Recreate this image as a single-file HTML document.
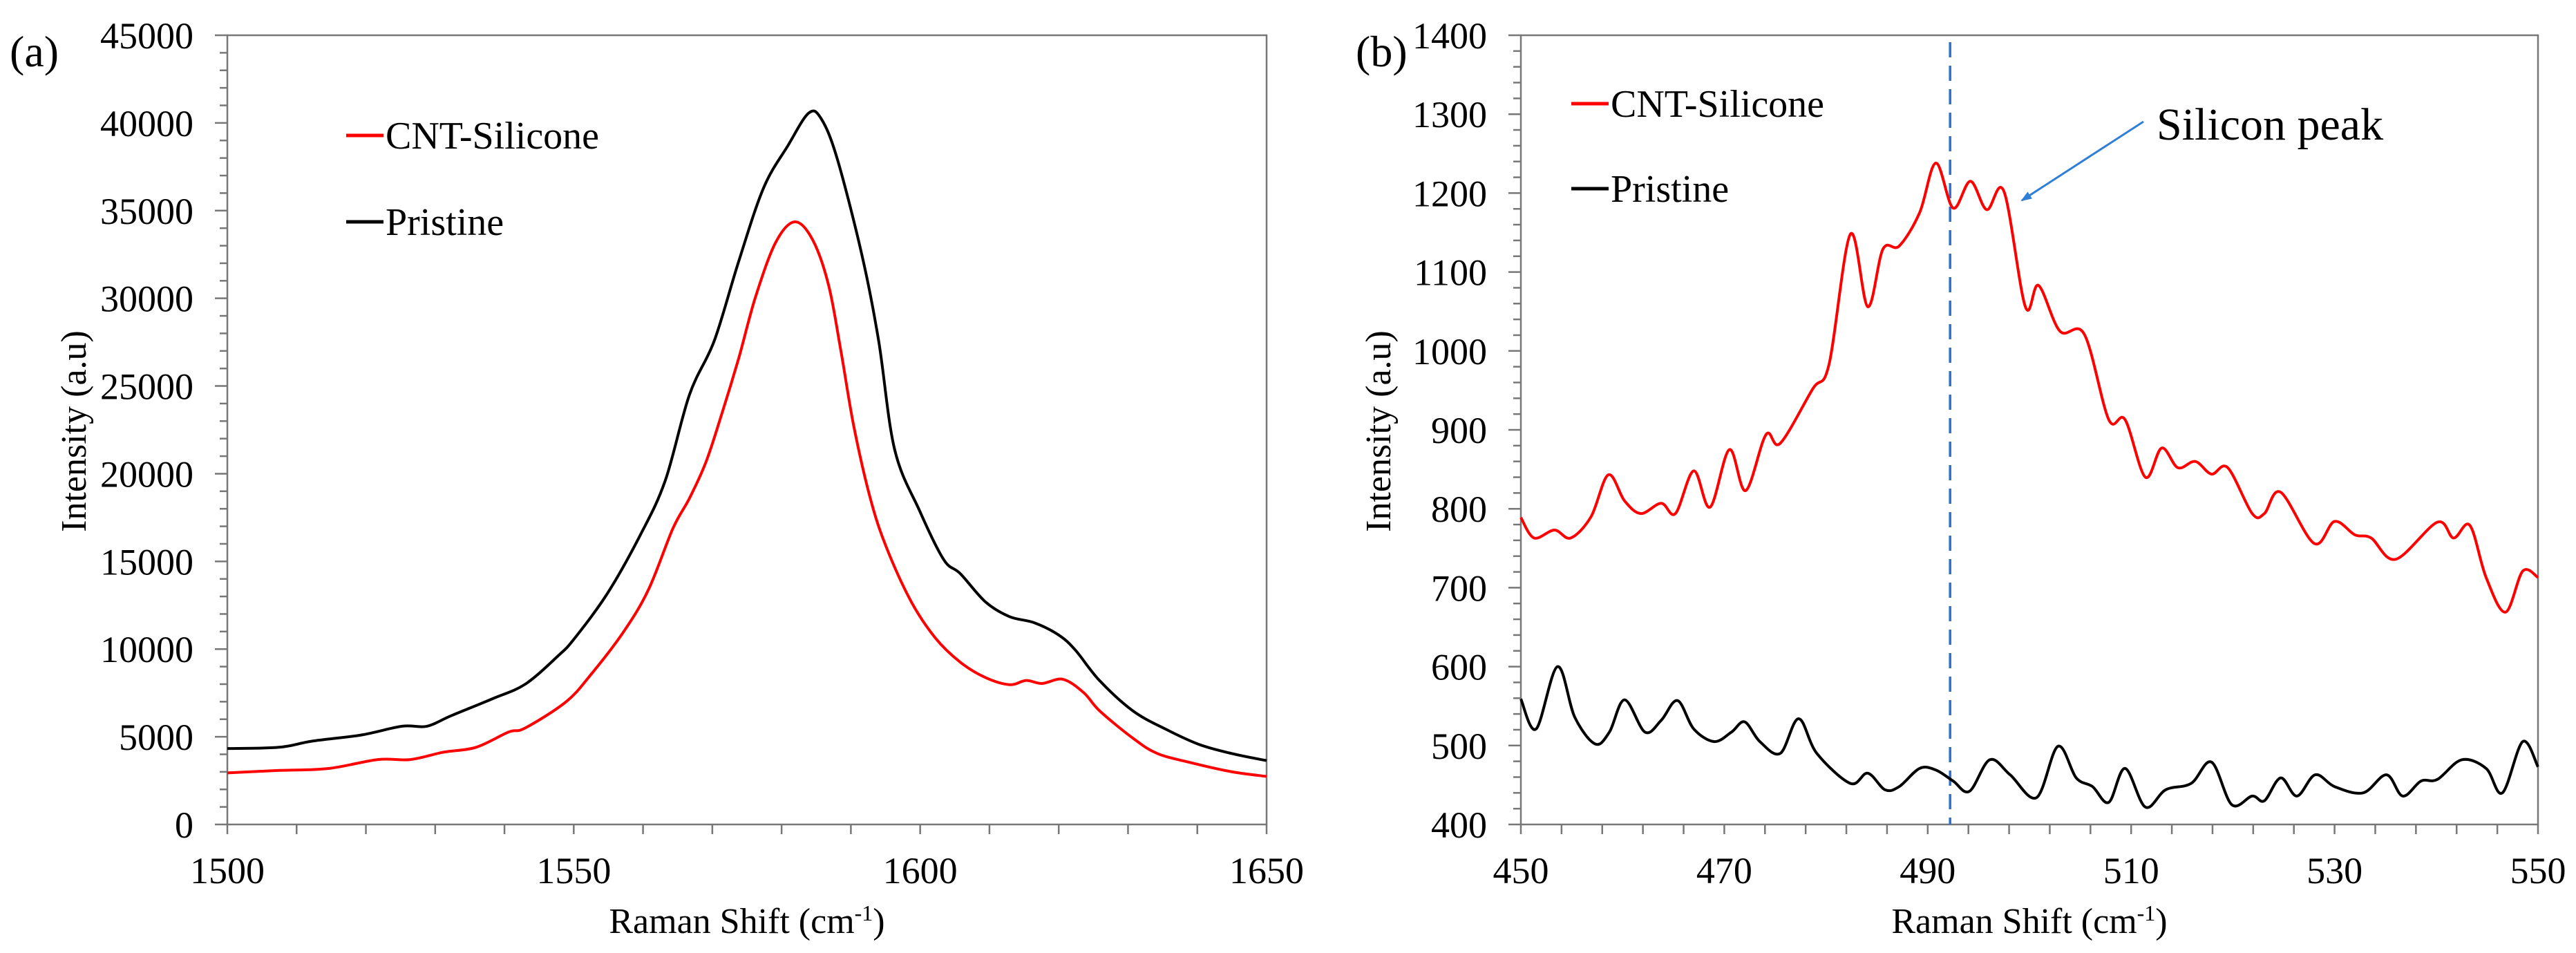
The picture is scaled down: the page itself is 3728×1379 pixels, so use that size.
<!DOCTYPE html>
<html><head><meta charset="utf-8"><style>
html,body{margin:0;padding:0;background:#fff}
svg{display:block;font-family:"Liberation Serif","DejaVu Serif","Times New Roman",serif}
text{font-family:"Liberation Serif","DejaVu Serif","Times New Roman",serif;fill:#000}
</style></head><body>
<svg id="s" width="3728" height="1379" viewBox="0 0 3728 1379" font-family="Liberation Serif, DejaVu Serif, serif">
<defs><marker id="ah" markerWidth="16" markerHeight="12" refX="14" refY="6" orient="auto" markerUnits="userSpaceOnUse"><path d="M0,0 L16,6 L0,12 z" fill="#2f7ed8"/></marker></defs>
</svg>
<script>
// Panel (a)
const aX_black=[1500,1507.5,1512.2,1519.3,1525.2,1528.8,1532.3,1538.3,1543,1547.7,1550.1,1554.9,1559.6,1563.2,1566.7,1570.3,1573.8,1577.4,1580.9,1583.9,1585.7,1588,1591.6,1594,1596.3,1599.9,1603.4,1605.8,1609.4,1612.9,1616.5,1620,1622.4,1625.9,1630.7,1635.4,1640.2,1644.9,1650];
const aY_black=[4330,4400,4750,5100,5600,5600,6200,7170,8000,9600,10600,13200,16500,19600,24500,27600,32100,36300,38700,40560,40250,38000,32460,27600,21400,17900,15100,14300,12700,11850,11500,10800,9940,8200,6480,5440,4570,4050,3640];
const aX_red=[1500,1507.5,1514.6,1521.7,1526.4,1531.2,1535.9,1540.6,1543,1548.9,1552.5,1557.2,1560.8,1564.3,1566.7,1569.1,1571.4,1573.8,1576.2,1579.1,1581.9,1584.5,1586.8,1588.6,1590.4,1592.8,1595.1,1598.7,1602.2,1605.8,1609.4,1612.9,1615.3,1617.6,1620.6,1623.6,1625.9,1630.7,1634.2,1639,1644.9,1650];
const aY_red=[2940,3080,3190,3700,3700,4120,4400,5270,5500,7000,8560,10990,13400,16870,18600,20680,23450,26570,30030,33150,34360,33320,30720,26900,22750,18600,15830,12710,10630,9250,8380,7970,8210,8040,8280,7520,6480,4920,4050,3530,3010,2740];
const aYTicks=[0,5000,10000,15000,20000,25000,30000,35000,40000,45000];
const aXTicks=[1500,1550,1600,1650];
// Panel (b)
const bX_red=[450,451.3,453.3,454.9,456.9,458.6,460.2,461.8,463.8,465.2,467,468.6,470.5,472.1,474.1,475.5,478.7,480.3,482.4,484.1,485.6,487.2,489.2,490.8,492.5,494.2,495.8,497.5,499.6,500.9,503,505.4,507.8,509.4,511.4,513,514.6,516.3,517.9,519.5,521.9,523.1,524.7,528,530,532,533.6,536,540.1,541.7,543.3,544.9,546.8,548.5,550];
const bY_red=[789,763,773,763,790,843,810,794,807,794,848,802,875,823,894,883,952,983,1148,1056,1129,1133,1175,1238,1181,1215,1179,1202,1056,1083,1025,1021,913,913,840,877,852,860,844,852,794,794,821,756,784,767,763,736,783,763,779,713,669,721,713];
const bX_black=[450,451.5,453.6,455.3,457.3,458.7,460.2,462.2,463.8,465.4,467,469,470.7,472,473.5,475.5,477.3,479.1,482.4,484.1,485.8,487.2,489.2,490.8,492.5,494.1,496.1,498.1,500.7,502.8,504.6,506.2,507.8,509.4,511.4,513.4,515.9,517.9,519.9,521.9,523.1,524.7,526.3,528.1,530,532.8,535.1,536.7,538.5,540.1,542.5,544.9,546.5,548.5,550];
const bY_black=[559,521,600,536,502,517,558,517,532,557,521,505,517,530,505,490,534,490,452,465,444,448,471,469,455,442,482,463,434,499,459,448,428,471,422,444,452,479,425,436,430,459,436,463,448,440,463,436,455,457,482,471,440,505,473];
const bYTicks=[400,500,600,700,800,900,1000,1100,1200,1300,1400];
const bXTicks=[450,470,490,510,530,550];
const bMarker=[492.2];

const NS="http://www.w3.org/2000/svg";
const FF='"Liberation Serif","DejaVu Serif","Times New Roman",serif';
const svg=document.getElementById('s');
function mk(tag,attrs,parent,txt){const e=document.createElementNS(NS,tag);for(const k in attrs)e.setAttribute(k,attrs[k]);if(tag==='text'){e.setAttribute('font-family','Liberation Serif, DejaVu Serif, serif');e.style.fontFamily=FF;}if(txt!==undefined)e.textContent=txt;(parent||svg).appendChild(e);return e;}
function smooth(pts){let d='M'+pts[0][0].toFixed(1)+','+pts[0][1].toFixed(1);for(let i=0;i<pts.length-1;i++){const p0=pts[Math.max(0,i-1)],p1=pts[i],p2=pts[i+1],p3=pts[Math.min(pts.length-1,i+2)];const c1=[p1[0]+(p2[0]-p0[0])/6,p1[1]+(p2[1]-p0[1])/6],c2=[p2[0]-(p3[0]-p1[0])/6,p2[1]-(p3[1]-p1[1])/6];d+=' C'+c1[0].toFixed(1)+','+c1[1].toFixed(1)+' '+c2[0].toFixed(1)+','+c2[1].toFixed(1)+' '+p2[0].toFixed(1)+','+p2[1].toFixed(1);}return d;}

function panel(cfg){
  const g=mk('g',{});
  
  
  const sx=v=>cfg.L+(v-cfg.x0)/(cfg.x1-cfg.x0)*(cfg.R-cfg.L);
  const sy=v=>cfg.B-(v-cfg.y0)/(cfg.y1-cfg.y0)*(cfg.B-cfg.T);
  const ax='#777';
  const fr=mk('rect',{x:cfg.L,y:cfg.T,width:cfg.R-cfg.L,height:cfg.B-cfg.T,fill:'none',stroke:ax,'stroke-width':2.5},g);
  
  
  const nY=Math.round((cfg.y1-cfg.y0)/cfg.yMinor), per=Math.round(cfg.yMajor/cfg.yMinor);
  for(let i=0;i<=nY;i++){const v=cfg.y0+i*cfg.yMinor;const major=i%per===0;mk('line',{x1:cfg.L-(major?18:11),x2:cfg.L,y1:sy(v),y2:sy(v),stroke:ax,'stroke-width':2.5},g);}
  const nX=Math.round((cfg.x1-cfg.x0)/cfg.xMinor);
  for(let i=0;i<=nX;i++){const v=cfg.x0+i*cfg.xMinor;mk('line',{x1:sx(v),x2:sx(v),y1:cfg.B,y2:cfg.B+14,stroke:ax,'stroke-width':2.5},g);}
  cfg.yTicks.forEach(v=>{const t=mk('text',{x:cfg.L-49,y:sy(v)+19,'text-anchor':'end','font-size':54},g,String(v));
    
    });
  cfg.xTicks.forEach(v=>{const t=mk('text',{x:sx(v),y:1278,'text-anchor':'middle','font-size':54},g,String(v));
    
    });
  const yt=mk('text',{x:0,y:0,'text-anchor':'middle','font-size':52,transform:'translate('+cfg.ytX+',624) rotate(-90)'},g,'Intensity (a.u)');
  
  
  const xt=mk('text',{x:(cfg.L+cfg.R)/2,y:1350,'text-anchor':'middle','font-size':52},g);
  
  
  xt.appendChild(document.createTextNode('Raman Shift (cm'));
  mk('tspan',{dy:-18,'font-size':32},xt,'-1');
  mk('tspan',{dy:18},xt,')');
  const lab=mk('text',{x:cfg.labX,y:96,'font-size':64},g,cfg.label);
  
  
  return {g,sx,sy};
}

function series(p,xs,ys,color,name){
  const pts=xs.map((x,i)=>[p.sx(x),p.sy(ys[i])]);
  const e=mk('path',{d:smooth(pts),fill:'none',stroke:color,'stroke-width':4,'stroke-linejoin':'round'},p.g);
  
  
}
function legend(p,x,y,color,txt){
  const l=mk('line',{x1:x,x2:x+54,y1:y,y2:y,stroke:color,'stroke-width':5},p.g);
  
  
  const t=mk('text',{x:x+57,y:y+19,'font-size':56},p.g,txt);
  
  
}

const pa=panel({name:'panel-a',L:329,R:1833,T:51,B:1193,x0:1500,x1:1650,y0:0,y1:45000,yMajor:5000,yMinor:1000,xMinor:10,yTicks:aYTicks,xTicks:aXTicks,ytX:124,labX:14,label:'(a)'});
series(pa,aX_black,aY_black,'#000','pristine-line-a');
series(pa,aX_red,aY_red,'#ff0000','cnt-silicone-line-a');
legend(pa,501,196,'#ff0000','CNT-Silicone');
legend(pa,501,321,'#000','Pristine');

const pb=panel({name:'panel-b',L:2201,R:3673,T:51,B:1193,x0:450,x1:550,y0:400,y1:1400,yMajor:100,yMinor:20,xMinor:4,yTicks:bYTicks,xTicks:bXTicks,ytX:2012,labX:1962,label:'(b)'});
bMarker.forEach(v=>{const l=mk('line',{x1:pb.sx(v),x2:pb.sx(v),y1:pb.sy(1400)+10,y2:pb.sy(400),stroke:'#2f6fd0','stroke-width':3.5,'stroke-dasharray':'22,12'},pb.g);
  
  });
series(pb,bX_red,bY_red,'#ff0000','cnt-silicone-line-b');
series(pb,bX_black,bY_black,'#000','pristine-line-b');
legend(pb,2274,150,'#ff0000','CNT-Silicone');
legend(pb,2274,273,'#000','Pristine');
const ar=mk('line',{x1:3102,y1:176,x2:2926,y2:290,stroke:'#2f7ed8','stroke-width':3,'marker-end':'url(#ah)'},pb.g);


const an=mk('text',{x:3121,y:202,'text-anchor':'start','font-size':66},pb.g,'Silicon peak');


</script>
</body></html>
